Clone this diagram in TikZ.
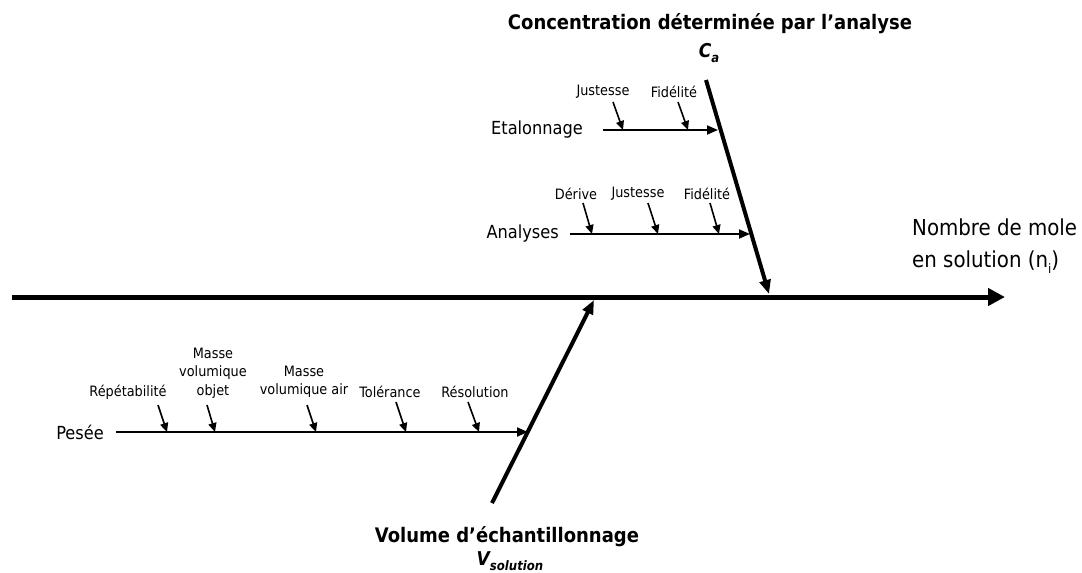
\documentclass[tikz,border=0pt]{standalone}
\usepackage{fontspec}
\setmainfont{DejaVu Sans Condensed}
\usetikzlibrary{arrows.meta}
\tikzset{
  spine/.style={line width=5pt,-{Triangle[length=17pt,width=17pt]}},
  bone/.style={line width=4pt,-{Triangle[length=14pt,width=11pt]}},
  branch/.style={line width=1.8pt,-{Triangle[length=11pt,width=9pt]}},
  cause/.style={line width=1.6pt,-{Triangle[length=9pt,width=8pt]}},
  small/.style={font=\fontsize{14.3pt}{18.5pt}\selectfont,align=center,inner sep=0pt},
  medium/.style={font=\fontsize{18pt}{22pt}\selectfont,inner sep=0pt},
  big/.style={font=\fontsize{22pt}{32pt}\selectfont,align=left,inner sep=0pt},
  title/.style={font=\fontsize{20pt}{24pt}\selectfont\bfseries,inner sep=0pt},
  symb/.style={font=\fontsize{19pt}{22pt}\selectfont\bfseries\itshape,inner sep=0pt},
}
\begin{document}
\begin{tikzpicture}[x=1pt,y=-1pt]
\useasboundingbox (0,0) rectangle (1082,573);
% main spine
\coordinate (S0) at (12,297);
\node[big,anchor=west] (effect) at (912,246) {Nombre de mole\\en solution (n\raisebox{-0.45ex}{\fontsize{13pt}{13pt}\selectfont i})};
\coordinate (S1) at (1005,297);
\draw[spine] (S0) -- (S1);
% upper bone
\node[title] (ctitle) at (710,24) {Concentration déterminée par l’analyse};
\node[symb] (ca) at (709,53) {C\raisebox{-0.5ex}{\fontsize{13pt}{13pt}\selectfont a}};
\coordinate (U0) at (706,80);
\coordinate (U1) at (769,294);
\draw[bone] (U0) -- (U1);
% lower bone
\node[title] (vtitle) at (507,537) {Volume d’échantillonnage};
\node[symb] (vs) at (510,561) {V\raisebox{-0.5ex}{\fontsize{13pt}{13pt}\selectfont solution}};
\coordinate (L0) at (492,503);
\coordinate (L1) at (594,300);
\draw[bone] (L0) -- (L1);
% Etalonnage
\node[medium,anchor=east] (etal) at (583,130) {Etalonnage};
\coordinate (etalS) at (603,130);
\coordinate (etalE) at (718,130);
\draw[branch] (etalS) -- (etalE);
\node[small] (ej) at (603,92) {Justesse};
\node[small] (ef) at (674,92) {Fidélité};
\coordinate (ej0) at (613,102); \coordinate (ej1) at (623,130);
\coordinate (ef0) at (678,102); \coordinate (ef1) at (688,130);
\draw[cause] (ej0) -- (ej1);
\draw[cause] (ef0) -- (ef1);
% Analyses
\node[medium,anchor=east] (anal) at (559,234) {Analyses};
\coordinate (analS) at (570,234);
\coordinate (analE) at (750,234);
\draw[branch] (analS) -- (analE);
\node[small] (ad) at (576,194) {Dérive};
\node[small] (aj) at (638,194) {Justesse};
\node[small] (af) at (707,194) {Fidélité};
\coordinate (ad0) at (583,203); \coordinate (ad1) at (592,234);
\coordinate (aj0) at (648,203); \coordinate (aj1) at (658,234);
\coordinate (af0) at (710,203); \coordinate (af1) at (719,234);
\draw[cause] (ad0) -- (ad1);
\draw[cause] (aj0) -- (aj1);
\draw[cause] (af0) -- (af1);
% Pesee
\node[medium,anchor=east] (pes) at (104,432) {Pesée};
\coordinate (pesS) at (116,432);
\coordinate (pesE) at (528,432);
\draw[branch] (pesS) -- (pesE);
\node[small] (pr) at (128,392) {Répétabilité};
\node[small] (pmo) at (213,373) {Masse\\volumique\\objet};
\node[small] (pma) at (304,382) {Masse\\volumique air};
\node[small] (pt) at (390,392) {Tolérance};
\node[small] (prs) at (475,392) {Résolution};
\coordinate (pr0) at (158,405); \coordinate (pr1) at (167,432);
\coordinate (pmo0) at (207,405); \coordinate (pmo1) at (215,432);
\coordinate (pma0) at (307,405); \coordinate (pma1) at (316,432);
\coordinate (pt0) at (396,402); \coordinate (pt1) at (406,432);
\coordinate (prs0) at (468,402); \coordinate (prs1) at (479,432);
\draw[cause] (pr0) -- (pr1);
\draw[cause] (pmo0) -- (pmo1);
\draw[cause] (pma0) -- (pma1);
\draw[cause] (pt0) -- (pt1);
\draw[cause] (prs0) -- (prs1);
\end{tikzpicture}
\end{document}
